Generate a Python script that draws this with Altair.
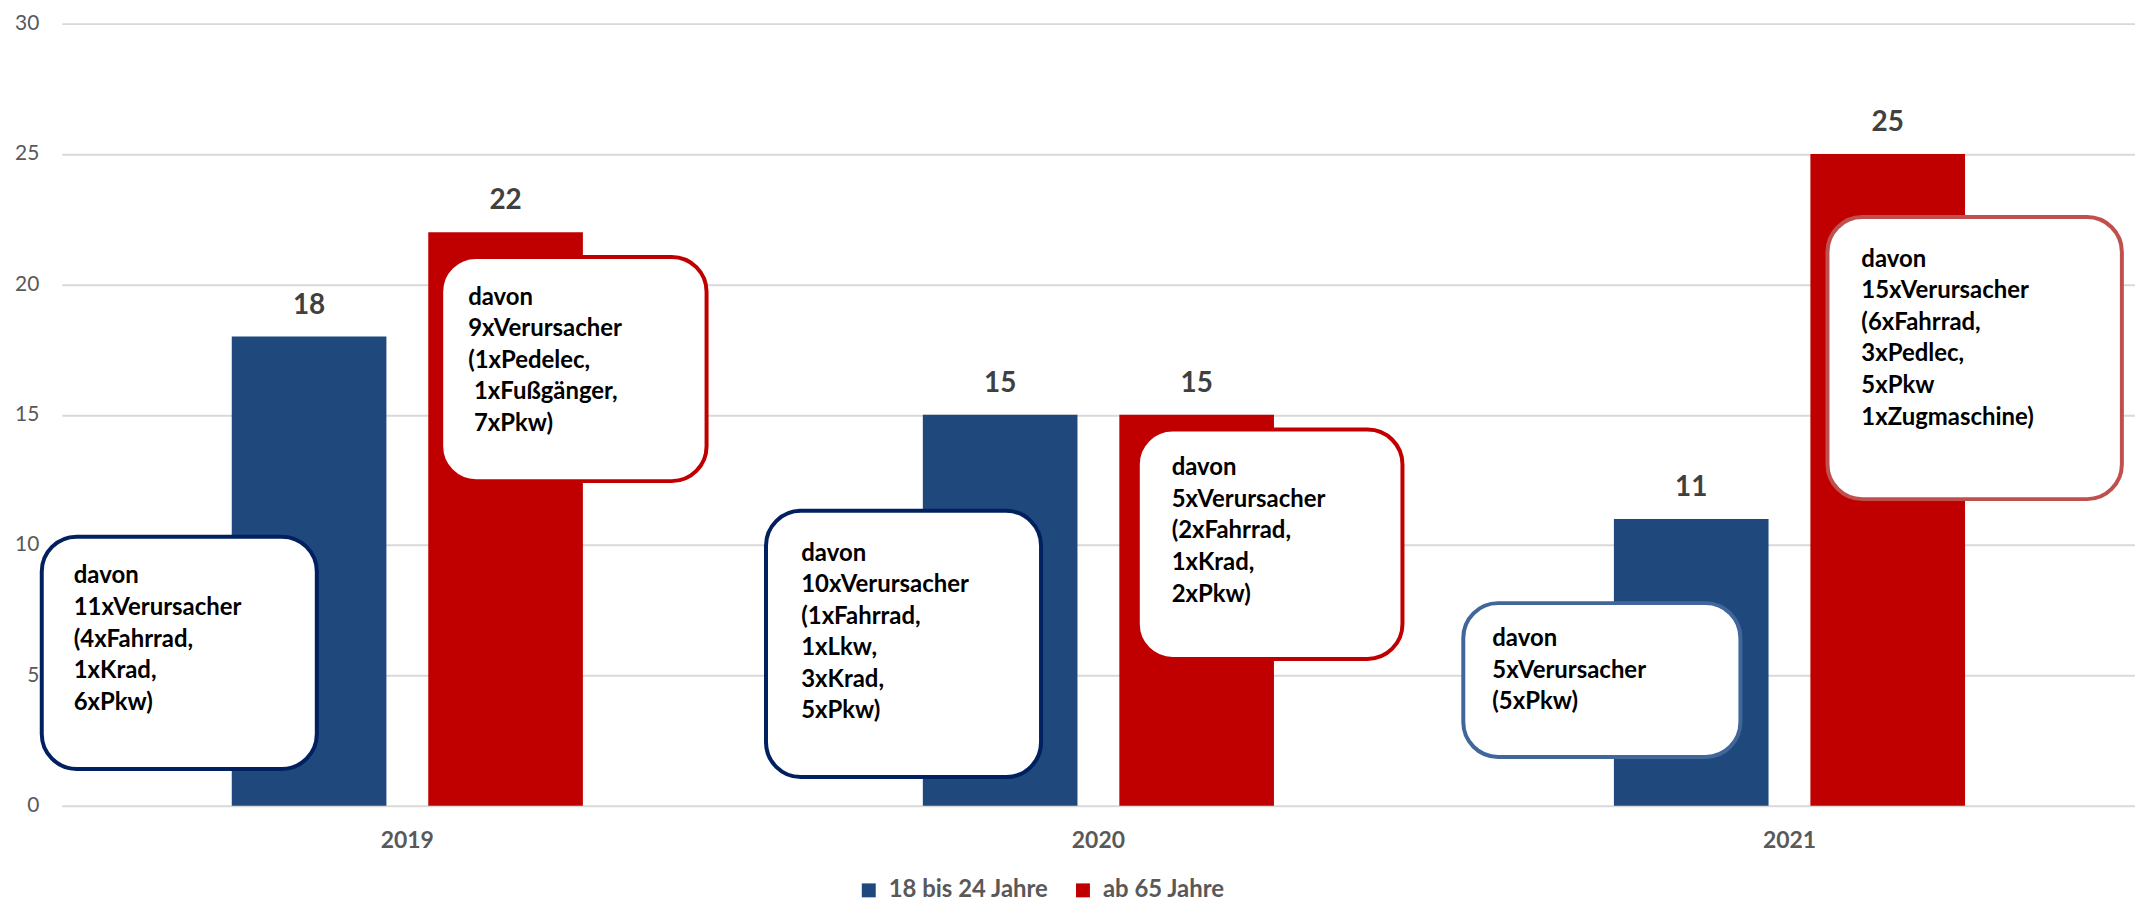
import altair as alt
import pandas as pd

# ---- data ----
years = ["2019", "2020", "2021"]
groups = ["18 bis 24 Jahre", "ab 65 Jahre"]
young_values = [18, 15, 11]
old_values = [22, 15, 25]

# annotation boxes (x in category units 0..3, y in value units)
note_texts = [
    "davon\n11xVerursacher\n(4xFahrrad,\n1xKrad,\n6xPkw)",
    "davon\n9xVerursacher\n(1xPedelec,\n\u200b\u00a01xFußgänger,\n\u200b\u00a07xPkw)",
    "davon\n10xVerursacher\n(1xFahrrad,\n1xLkw,\n3xKrad,\n5xPkw)",
    "davon\n5xVerursacher\n(2xFahrrad,\n1xKrad,\n2xPkw)",
    "davon\n5xVerursacher\n(5xPkw)",
    "davon\n15xVerursacher\n(6xFahrrad,\n3xPedlec,\n5xPkw\n1xZugmaschine)",
]
note_x1 = [-0.029, 0.549, 1.019, 1.557, 2.028, 2.555]
note_x2 = [0.369, 0.933, 1.417, 1.940, 2.429, 2.981]
note_top = [10.32, 21.05, 11.31, 14.43, 7.77, 22.58]
note_bottom = [1.41, 12.45, 1.10, 5.63, 1.87, 11.76]
note_text_x = [0.0173, 0.588, 1.070, 1.606, 2.070, 2.604]
note_text_y = [9.25, 19.95, 10.13, 13.40, 6.85, 21.40]
note_border = ["#002060", "#C00000", "#002060", "#C00000", "#41669A", "#C0504D"]

bar_colors = ["#1F497D", "#C00000"]

rows = []
for i, y in enumerate(years):
    rows.append({"year": y, "group": groups[0], "value": young_values[i]})
    rows.append({"year": y, "group": groups[1], "value": old_values[i]})
df = pd.DataFrame(rows)

notes = pd.DataFrame({
    "text": note_texts, "x1": note_x1, "x2": note_x2,
    "ytop": note_top, "ybot": note_bottom,
    "tx": note_text_x, "ty": note_text_y, "border": note_border,
})

FONT = "Lato"
y_scale = alt.Scale(domain=[0, 30], nice=False, zero=True)
y_axis = alt.Axis(title=None, values=[0, 5, 10, 15, 20, 25, 30], ticks=False, domain=False,
                  gridColor="#D9D9D9", gridWidth=2, labelFont=FONT, labelFontSize=21,
                  labelColor="#595959", labelPadding=23)

x_enc = alt.X("year:N", sort=years,
              scale=alt.Scale(paddingInner=0, paddingOuter=0),
              axis=alt.Axis(title=None, labelAngle=0, ticks=False, domain=False, grid=False,
                            labelFont=FONT, labelFontWeight="bold", labelFontSize=23,
                            labelColor="#595959", labelPadding=24))
xoff_enc = alt.XOffset("group:N", sort=groups,
                       scale=alt.Scale(paddingInner=0.213, paddingOuter=0.865))

bars = alt.Chart(df).mark_bar().encode(
    x=x_enc,
    xOffset=xoff_enc,
    y=alt.Y("value:Q", scale=y_scale, axis=y_axis),
    color=alt.Color("group:N", sort=groups,
                    scale=alt.Scale(domain=groups, range=bar_colors),
                    legend=alt.Legend(title=None, orient="none", legendX=798, legendY=858,
                                      direction="horizontal", symbolType="square", symbolSize=196,
                                      symbolStrokeWidth=0, labelFont=FONT, labelFontWeight="bold",
                                      labelFontSize=24, labelColor="#595959", columnPadding=22,
                                      labelOffset=8, labelLimit=0, padding=0)),
)

labels = alt.Chart(df).mark_text(dy=-31, fontSize=28, fontWeight="bold", font=FONT,
                                 color="#404040", baseline="middle").encode(
    x=alt.X("year:N", sort=years), xOffset=alt.XOffset("group:N", sort=groups),
    y=alt.Y("value:Q", scale=y_scale, axis=y_axis), text="value:Q",
)

bx = alt.Scale(domain=[0, 3], nice=False, zero=False)
boxes = alt.Chart(notes).mark_rect(fill="white", cornerRadius=35, strokeWidth=4).encode(
    x=alt.X("x1:Q", scale=bx, axis=None), x2="x2:Q",
    y=alt.Y("ytop:Q", scale=y_scale, axis=y_axis), y2="ybot:Q",
    stroke=alt.Stroke("border:N", scale=None),
)
texts = alt.Chart(notes).mark_text(align="left", baseline="top", lineBreak="\n", lineHeight=31.7,
                                   fontSize=24, font=FONT, fontWeight="bold", color="#000000").encode(
    x=alt.X("tx:Q", scale=bx, axis=None),
    y=alt.Y("ty:Q", scale=y_scale, axis=y_axis),
    text="text:N",
)

chart = alt.layer(
    alt.layer(bars, labels),
    alt.layer(boxes, texts),
).resolve_scale(x="independent").properties(
    width=2081, height=785,
    padding={"left": 6, "top": 3, "right": 0, "bottom": 0},
).configure_view(stroke=None)

chart.save("out.html", embed_options={"renderer": "svg", "actions": False})
